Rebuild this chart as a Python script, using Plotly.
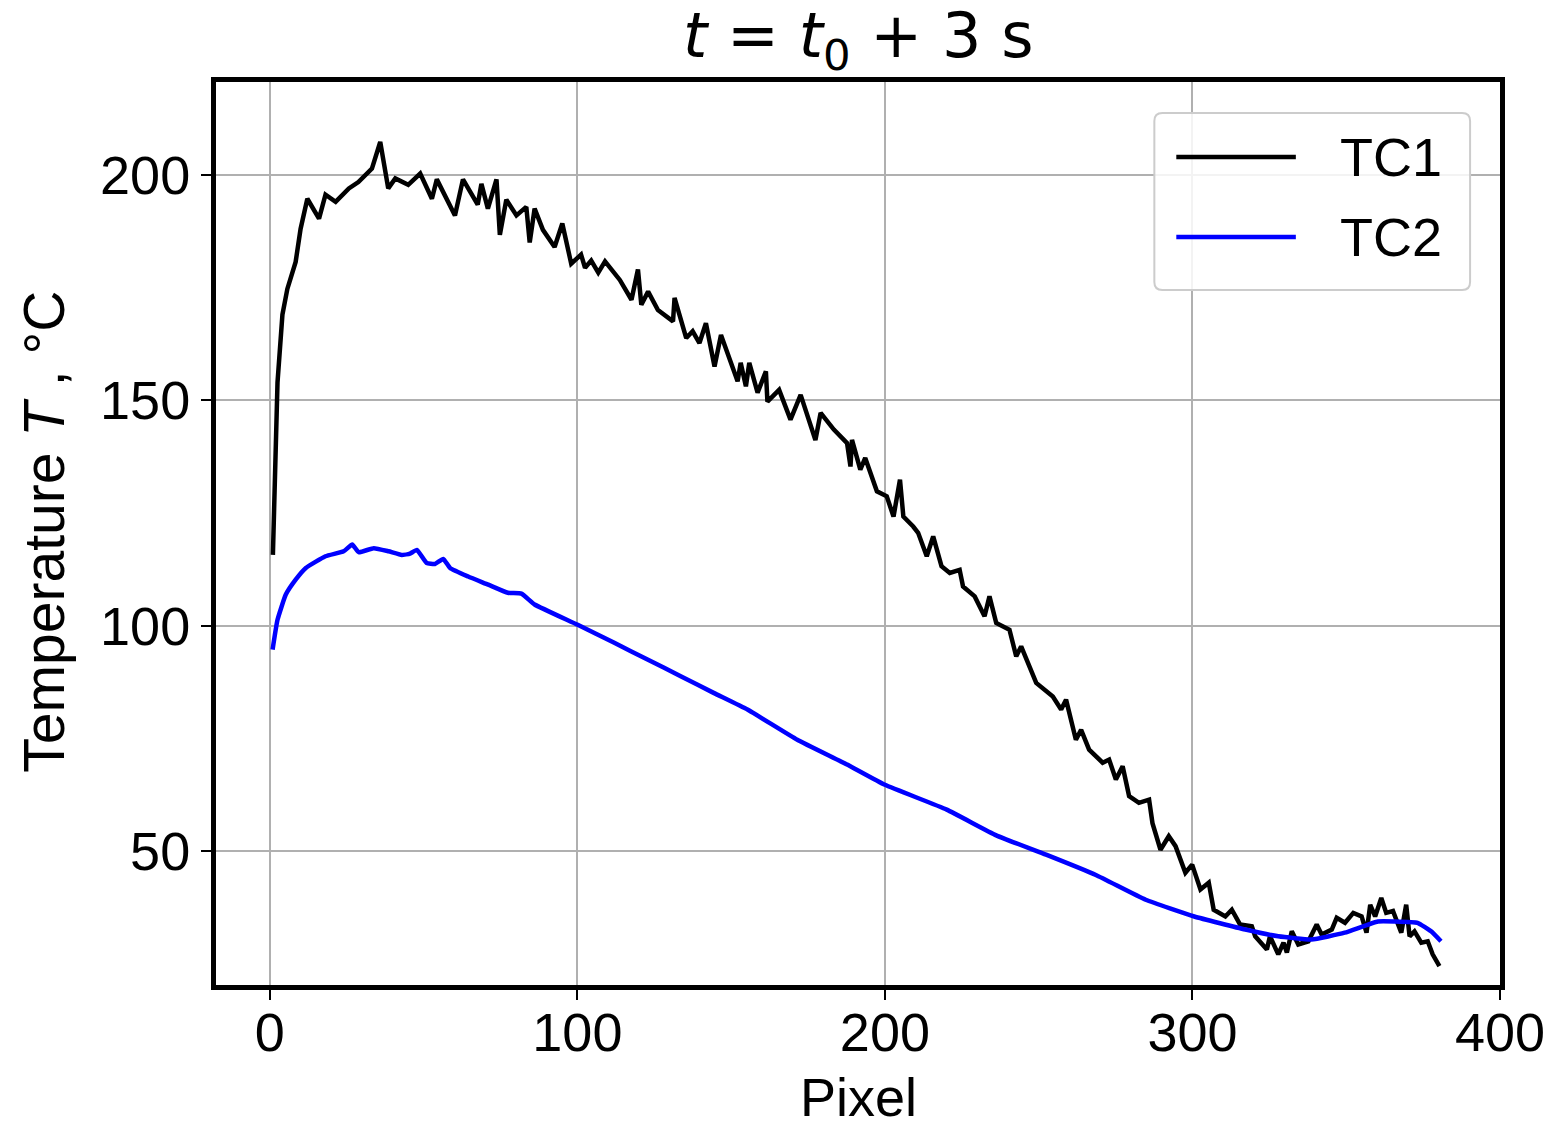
import plotly.graph_objects as go

# ---- data ----
tc1_x = [1.0, 2.5, 4.1, 5.7, 8.4, 10.0, 12.2, 16.0, 18.1, 21.4, 25.7, 28.8, 33.2, 35.9, 38.5, 40.8,
         45.0, 48.9, 52.7, 54.3, 60.2, 62.8, 67.6, 68.8, 70.9, 73.7, 74.8, 76.9, 80.2, 83.4, 84.5,
         86.1, 88.8, 92.6, 95.1, 98.0, 101.2, 102.5, 104.5, 106.8, 109.0, 113.8, 117.6, 119.7,
         120.8, 123.0, 126.2, 131.1, 131.6, 135.4, 137.5, 139.7, 141.8, 144.6, 146.7, 149.9,
         152.1, 153.1, 154.8, 155.9, 158.6, 161.3, 161.8, 165.6, 169.3, 172.6, 174.2, 177.4,
         179.1, 183.4, 187.7, 188.8, 189.3, 192.0, 193.6, 197.4, 200.6, 202.8, 204.9, 206.0,
         209.2, 210.8, 213.6, 215.7, 218.4, 221.1, 224.3, 225.4, 229.2, 232.4, 234.0, 236.2,
         240.5, 242.7, 244.3, 247.0, 249.2, 254.6, 257.3, 258.9, 262.1, 263.8, 266.4, 270.8,
         272.9, 275.1, 277.3, 279.4, 282.6, 285.9, 287.0, 289.6, 292.3, 294.5, 297.7, 299.9,
         302.6, 305.3, 306.9, 310.7, 312.8, 315.5, 319.3, 320.4, 324.2, 325.2, 327.9, 329.6,
         330.7, 332.3, 334.4, 337.7, 340.4, 342.0, 345.3, 346.9, 349.6, 352.3, 355.0, 356.6,
         357.8, 359.4, 361.4, 363.0, 365.2, 367.9, 369.5, 370.6, 372.2, 374.4, 376.5, 378.1, 380.3]
tc1_y = [115.7, 154.0, 169.0, 174.7, 180.7, 188.0, 194.7, 190.3, 195.6, 194.0, 197.0, 198.4, 201.4,
         207.3, 197.0, 199.2, 197.8, 200.3, 194.7, 199.0, 191.0, 199.0, 193.4, 198.0, 192.5, 199.0,
         186.7, 194.5, 191.0, 192.9, 185.0, 192.5, 187.8, 184.0, 189.2, 180.3, 182.3, 179.4, 181.0,
         178.3, 180.8, 176.7, 172.3, 179.0, 171.2, 174.1, 170.0, 167.5, 172.7, 163.8, 165.3, 162.7,
         167.1, 157.5, 164.5, 158.3, 154.2, 158.3, 153.1, 158.3, 151.7, 156.4, 149.7, 152.3, 145.7,
         151.2, 147.9, 141.2, 147.2, 143.5, 140.5, 135.3, 141.2, 134.6, 137.2, 129.8, 128.7, 124.2,
         132.4, 124.2, 122.0, 120.6, 115.4, 119.8, 113.2, 111.7, 112.4, 108.7, 106.5, 102.1, 106.5,
         100.6, 99.1, 93.2, 95.4, 91.0, 87.3, 84.3, 81.4, 83.6, 74.7, 76.9, 72.5, 69.6, 70.3, 65.9,
         68.8, 62.2, 60.7, 61.4, 56.2, 50.3, 53.3, 51.1, 45.2, 47.0, 41.5, 43.0, 37.0, 35.5, 37.0,
         33.7, 33.3, 31.1, 28.2, 31.1, 27.1, 29.7, 27.5, 32.2, 29.3, 30.0, 33.7, 31.5, 32.6, 35.2,
         34.1, 36.3, 35.5, 31.9, 38.1, 35.5, 39.6, 36.3, 36.7, 31.9, 38.1, 31.1, 32.2, 29.7, 30.0,
         27.1, 24.5]

tc2_x = [0.9, 2.5, 5.2, 8.4, 11.7, 18.1, 24.0, 26.8, 28.9, 33.8, 38.6, 42.9, 45.6, 47.8, 51.0,
         53.7, 56.4, 58.6, 64.5, 71.0, 77.4, 81.8, 86.1, 100.1, 112.0, 122.8, 133.6, 144.3, 155.3,
         171.5, 187.7, 200.0, 220.1, 236.2, 252.4, 268.6, 284.8, 300.6, 317.2, 327.9, 338.7,
         349.5, 360.3, 365.7, 373.2, 377.6, 380.8]
tc2_y = [94.7, 101.3, 106.9, 110.2, 112.8, 115.4, 116.5, 118.0, 116.3, 117.2, 116.5, 115.7, 116.0,
         116.8, 113.9, 113.7, 114.8, 112.8, 110.9, 109.1, 107.3, 107.1, 104.7, 100.2, 96.2, 92.5,
         88.8, 85.1, 81.4, 74.7, 69.2, 64.7, 59.2, 53.5, 49.2, 44.7, 39.2, 35.5, 32.6, 31.1, 30.4,
         31.9, 34.4, 34.4, 34.1, 32.2, 30.0]

x_ticks = [0, 100, 200, 300, 400]
y_ticks = [50, 100, 150, 200]
series_names = ["TC1", "TC2"]
series_colors = ["#000000", "#0000ff"]

FONT = "Arial, Liberation Sans, sans-serif"
FS = 54
LW = 4.5

fig = go.Figure()
fig.add_trace(go.Scatter(x=tc1_x, y=tc1_y, mode="lines", name=series_names[0],
                         line=dict(color=series_colors[0], width=LW), showlegend=False))
fig.add_trace(go.Scatter(x=tc2_x, y=tc2_y, mode="lines", name=series_names[1],
                         line=dict(color=series_colors[1], width=LW, shape="spline", smoothing=0.4),
                         showlegend=False))

axis_common = dict(showline=True, linecolor="black", linewidth=5, mirror=True,
                   ticks="outside", ticklen=10, tickwidth=2, tickcolor="black",
                   showgrid=True, gridcolor="#b0b0b0", gridwidth=2, zeroline=False,
                   tickfont=dict(family=FONT, size=FS, color="black"))

fig.update_xaxes(range=[-17.5, 400], tickvals=x_ticks, ticktext=[str(v) for v in x_ticks],
                 ticklabelstandoff=-14, **axis_common)
fig.update_yaxes(range=[20.3, 220.6], tickvals=y_ticks, ticktext=[str(v) for v in y_ticks], **axis_common)

# manual legend (paper coordinates)
lx0, lx1, ly0, ly1 = 0.7308, 0.9767, 0.7697, 0.9657
rx, ry = 0.0062, 0.0089
path = (f"M {lx0+rx},{ly0} L {lx1-rx},{ly0} Q {lx1},{ly0} {lx1},{ly0+ry} "
        f"L {lx1},{ly1-ry} Q {lx1},{ly1} {lx1-rx},{ly1} L {lx0+rx},{ly1} "
        f"Q {lx0},{ly1} {lx0},{ly1-ry} L {lx0},{ly0+ry} Q {lx0},{ly0} {lx0+rx},{ly0} Z")
shapes = [dict(type="path", xref="paper", yref="paper", path=path,
               line=dict(color="#cccccc", width=2), fillcolor="rgba(255,255,255,0.85)", layer="above")]
annotations = []
for name, col, yy in zip(series_names, series_colors, [0.9169, 0.8283]):
    shapes.append(dict(type="line", xref="paper", yref="paper", x0=0.7479, x1=0.8410, y0=yy, y1=yy,
                       line=dict(color=col, width=LW), layer="above"))
    annotations.append(dict(xref="paper", yref="paper", x=0.8736, y=yy, xanchor="left", yanchor="middle",
                            text=name, showarrow=False, font=dict(family=FONT, size=FS, color="black")))

annotations.append(dict(xref="paper", yref="paper", x=0.5, y=-0.124, xanchor="center", yanchor="middle",
                        text="Pixel", showarrow=False, font=dict(family=FONT, size=FS, color="black")))
annotations.append(dict(xref="paper", yref="paper", x=-0.134, y=0.502, xanchor="center", yanchor="middle",
                        text="Temperature <i>T</i> , °C", textangle=-90, showarrow=False,
                        font=dict(family=FONT, size=57, color="black")))
annotations.append(dict(xref="paper", yref="paper", x=0.5, y=1.047, xanchor="center", yanchor="middle",
                        text="<i>t</i> = <i>t</i><sub>0</sub> + 3 s", showarrow=False,
                        font=dict(family="DejaVu Sans", size=62, color="black")))

fig.update_layout(width=1557, height=1122, margin=dict(l=216, r=52, t=82, b=137),
                  paper_bgcolor="white", plot_bgcolor="white",
                  shapes=shapes, annotations=annotations, showlegend=False)

fig.write_html("out.html", config={"displayModeBar": False},
               post_script="document.body.style.margin='0';document.body.style.padding='0';")
